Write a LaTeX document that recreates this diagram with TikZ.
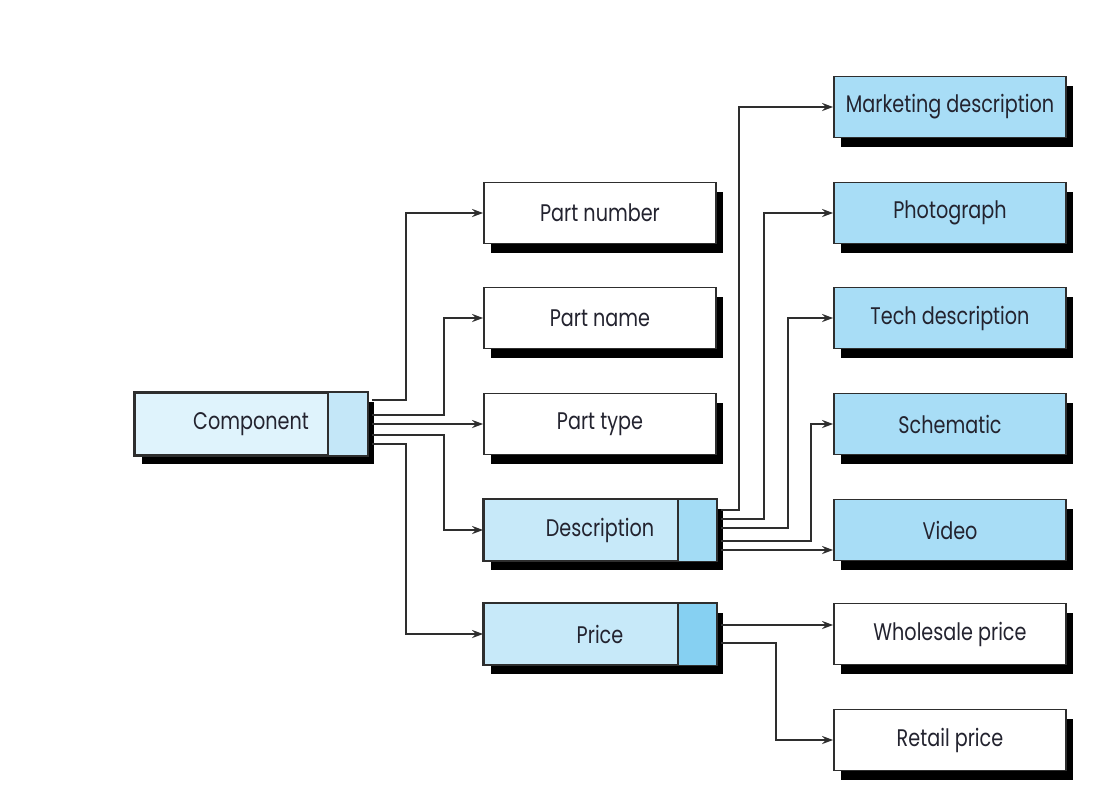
\documentclass[tikz,border=0pt]{standalone}
\usepackage{fontspec}
\setmainfont[FakeStretch=0.8]{Poppins}
\usetikzlibrary{arrows.meta,calc,shadows}
\definecolor{lineC}{HTML}{2E2E2E}
\definecolor{compL}{HTML}{DFF3FC}
\definecolor{compR}{HTML}{C4E7F8}
\definecolor{midL}{HTML}{C7E9F9}
\definecolor{descR}{HTML}{A3DCF5}
\definecolor{priceR}{HTML}{86D0F2}
\definecolor{rightB}{HTML}{A8DDF6}
\definecolor{txt}{HTML}{23232F}
\tikzset{
  box/.style={draw=lineC, line width=1.8pt, minimum width=232pt, minimum height=61pt,
    inner sep=0pt, text=txt, font=\fontsize{24}{28}\selectfont,
    drop shadow={shadow xshift=7pt, shadow yshift=-9pt, fill=black, opacity=1}},
  whitebox/.style={box, fill=white},
  bluebox/.style={box, fill=rightB},
  splitbox/.style={box, fill=midL},
  divider/.style={draw=lineC, line width=1.8pt},
  conn/.style={draw=lineC, line width=2.2pt, -{Stealth[length=11pt,width=8pt]}},
}
\begin{document}
\begin{tikzpicture}[x=1pt,y=-1pt]
\useasboundingbox[fill=white] (0,0) rectangle (1106,801);
% left
\node[splitbox, fill=compL, minimum height=62pt] (comp) at (251,424) {Component};
% middle column
\node[whitebox] (pnum) at (600,213) {Part number};
\node[whitebox] (pname) at (600,318) {Part name};
\node[whitebox] (ptype) at (600,424) {Part type};
\node[splitbox] (desc) at (600,530) {Description};
\node[splitbox] (price) at (600,634) {Price};
% right column
\node[bluebox] (mkt) at (950,107) {Marketing description};
\node[bluebox] (photo) at (950,213) {Photograph};
\node[bluebox] (tech) at (950,318) {Tech description};
\node[bluebox] (schem) at (950,424) {Schematic};
\node[bluebox] (video) at (950,530) {Video};
\node[whitebox] (whole) at (950,634) {Wholesale price};
\node[whitebox] (retail) at (950,740) {Retail price};
% right sections of split boxes
\fill[compR] ($(comp.north east)+(-40,0)$) rectangle (comp.south east);
\draw[divider] ($(comp.north east)+(-40,0)$) -- ($(comp.south east)+(-40,0)$);
\draw[divider] (comp.north west) rectangle (comp.south east);
\fill[descR] ($(desc.north east)+(-39,0)$) rectangle (desc.south east);
\draw[divider] ($(desc.north east)+(-39,0)$) -- ($(desc.south east)+(-39,0)$);
\draw[divider] (desc.north west) rectangle (desc.south east);
\fill[priceR] ($(price.north east)+(-39,0)$) rectangle (price.south east);
\draw[divider] ($(price.north east)+(-39,0)$) -- ($(price.south east)+(-39,0)$);
\draw[divider] (price.north west) rectangle (price.south east);
% connectors from component
\draw[conn] ($(comp.east)+(4,-24)$) -- ++(34,0) |- (pnum.west);
\draw[conn] ($(comp.east)+(4,-9)$) -- ++(72,0) |- (pname.west);
\draw[conn] ($(comp.east)+(4,0)$) -- (ptype.west);
\draw[conn] ($(comp.east)+(4,11)$) -- ++(72,0) |- (desc.west);
\draw[conn] ($(comp.east)+(4,20)$) -- ++(34,0) |- (price.west);
% connectors from description
\draw[conn] ($(desc.east)+(4,-20)$) -- ++(18,0) |- (mkt.west);
\draw[conn] ($(desc.east)+(4,-11)$) -- ++(43,0) |- (photo.west);
\draw[conn] ($(desc.east)+(4,-2)$) -- ++(67,0) |- (tech.west);
\draw[conn] ($(desc.east)+(4,11)$) -- ++(90,0) |- (schem.west);
\draw[conn] ($(desc.east)+(4,20)$) coordinate (vs) -- (vs -| video.west);
% connectors from price
\draw[conn] ($(price.east)+(4,-9)$) coordinate (ws) -- (ws -| whole.west);
\draw[conn] ($(price.east)+(4,9)$) -- ++(55,0) |- (retail.west);
\end{tikzpicture}
\end{document}
